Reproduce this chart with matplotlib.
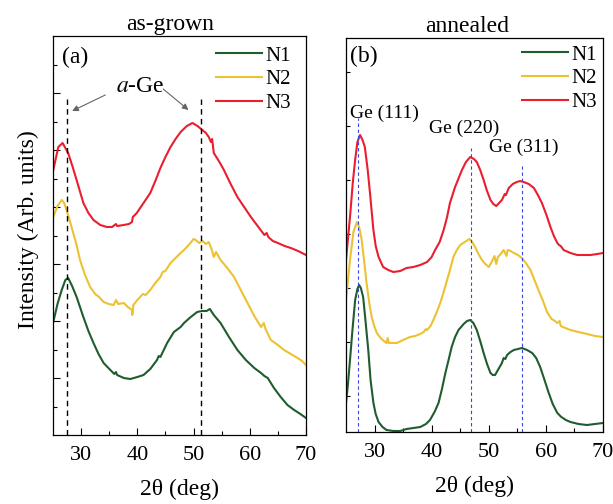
import matplotlib
matplotlib.use("Agg")
import matplotlib.pyplot as plt
from matplotlib.ticker import FixedLocator

plt.rcParams['font.family'] = ['Liberation Serif', 'DejaVu Serif']
plt.rcParams['mathtext.fontset'] = 'stix'

# ---------------- data: as-grown (a) ----------------
theta_a_N1 = [25.05, 25.8, 26.55, 27.2, 27.7, 28.4, 29.2, 30.4, 31.3, 32.2, 33.1, 34.0, 35.2, 35.9,
              36.2, 36.4, 37.6, 38.75, 40.0, 41.1, 42.3, 43.5, 43.8, 44.1, 45.3, 46.5, 47.7, 48.3,
              49.5, 50.65, 51.5, 52.3, 52.9, 53.6, 54.8, 56.3, 57.8, 59.3, 60.8, 62.0, 62.6, 63.2,
              64.3, 65.5, 66.7, 67.9, 69.0, 70.0]
I_a_N1 = [113, 131, 145, 155, 157, 149, 138, 118, 104, 92, 81, 72, 65, 61,
          63, 60, 57, 56, 58, 60, 66, 75, 79, 78, 92, 103, 108, 112,
          118, 123, 124, 124, 126, 120, 112, 98, 85, 75, 67, 62, 59, 57,
          47, 38, 30, 25, 21, 17]

theta_a_N2 = [25.05, 25.8, 26.55, 27.0, 27.4, 28.0, 28.6, 29.2, 29.8, 30.7, 31.6, 32.5, 33.2, 34.0,
              34.9, 35.8, 36.2, 36.6, 37.6, 38.3, 39.05, 39.1, 39.3, 40.0, 40.5, 41.0, 41.5, 42.3,
              43.2, 44.1, 44.5, 45.0, 45.9, 46.8, 47.7, 48.3, 49.3, 50.0, 50.4, 51.0, 51.6, 52.2,
              52.7, 53.2, 53.6, 54.0, 54.8, 56.0, 57.2, 58.4, 59.6, 60.8, 62.0, 62.5, 62.8, 63.75,
              65.0, 66.1, 67.3, 68.5, 69.3, 70.0]
I_a_N2 = [218, 229, 235, 232, 225, 214, 202, 190, 175, 160, 148, 141, 138, 133,
          131, 130, 135, 131, 132, 128, 125, 120, 130, 135, 138, 141, 140, 145,
          152, 158, 163, 164, 172, 177, 182, 185, 191, 196, 195, 192, 194, 191,
          193, 186, 178, 183, 175, 167, 158, 145, 132, 119, 108, 112, 106, 95,
          90, 85, 81, 77, 74, 70]

theta_a_N3 = [25.05, 25.95, 26.7, 27.7, 28.5, 29.2, 30.4, 31.3, 32.2, 33.4, 34.6, 35.5, 36.2, 36.4,
              37.6, 38.5, 39.05, 39.2, 39.9, 41.1, 42.3, 43.2, 44.1, 45.0, 45.9, 46.8, 47.7, 48.8,
              49.8, 50.7, 51.55, 52.2, 52.7, 53.1, 53.3, 53.6, 54.5, 55.4, 56.6, 57.8, 59.0, 60.2,
              61.4, 62.6, 63.0, 63.3, 64.1, 65.0, 66.2, 67.3, 68.6, 70.0]
I_a_N3 = [265, 288, 292, 282, 268, 255, 232, 222, 215, 210, 208, 208, 211, 209,
          210, 211, 213, 218, 222, 232, 242, 254, 267, 278, 288, 296, 303, 309,
          312, 309, 305, 302, 298, 293, 296, 282, 274, 265, 251, 238, 228, 218,
          209, 200, 202, 198, 194, 192, 189, 187, 184, 180]

# ---------------- data: annealed (b) ----------------
theta_b_N1 = [25.0, 25.3, 25.7, 26.1, 26.6, 27.0, 27.3, 27.6, 28.0, 28.4, 28.9, 29.3, 29.8, 30.2,
              30.7, 31.4, 32.1, 33.3, 34.5, 35.6, 36.8, 38.0, 39.0, 39.7, 40.5, 41.2, 41.8, 42.4,
              43.0, 43.5, 44.1, 44.7, 45.6, 46.2, 46.75, 47.3, 47.9, 48.5, 49.1, 49.7, 50.3, 50.7,
              51.1, 51.7, 52.3, 52.6, 52.9, 53.2, 53.8, 54.4, 55.1, 55.8, 56.7, 57.6, 58.3, 59.0,
              59.7, 60.5, 61.2, 62.0, 62.7, 63.5, 64.3, 65.7, 67.2, 68.6, 70.0]
I_b_N1 = [29, 45, 72, 100, 132, 143, 147, 144, 135, 112, 82, 52, 29, 18,
          10, 5, 2, 1, 1, 3, 4, 5, 8, 12, 20, 29, 43, 59,
          73, 85, 95, 102, 108, 111, 112, 109, 102, 91, 79, 68, 59, 57,
          57, 63, 69, 74, 73, 77, 80, 82, 83, 84, 82, 79, 74, 65,
          53, 39, 28, 19, 15, 12, 10, 8, 7, 8, 9]

theta_b_N2 = [25.0, 25.7, 26.3, 26.9, 27.3, 27.75, 28.2, 28.6, 29.1, 29.5, 30.0, 30.4, 31.2, 32.1,
              32.3, 32.5, 33.1, 33.9, 35.0, 36.2, 37.1, 38.0, 38.6, 39.0, 39.2, 39.8, 40.3, 40.9,
              41.5, 42.1, 42.7, 43.3, 43.8, 44.4, 45.0, 45.8, 46.6, 47.1, 47.6, 48.2, 48.8, 49.4,
              50.0, 50.5, 51.0, 51.3, 51.6, 52.1, 52.6, 53.1, 53.3, 53.8, 54.4, 55.1, 55.8, 56.5,
              57.3, 58.0, 58.7, 59.5, 60.2, 61.0, 61.6, 62.0, 62.4, 62.6, 63.4, 64.3, 65.7, 67.2,
              68.6, 70.0]
I_b_N2 = [132, 172, 200, 210, 205, 192, 170, 149, 128, 115, 105, 99, 93, 89,
          94, 89, 89, 89, 92, 95, 96, 98, 100, 103, 102, 106, 112, 120,
          129, 140, 152, 164, 175, 182, 187, 190, 193, 190, 185, 178, 172, 168,
          165, 170, 176, 168, 175, 178, 182, 176, 182, 181, 179, 177, 174, 169,
          162, 152, 142, 131, 120, 113, 111, 109, 111, 106, 104, 102, 100, 98,
          96, 95]

theta_b_N3 = [25.0, 25.7, 26.2, 26.6, 27.0, 27.46, 27.9, 28.3, 28.8, 29.2, 29.8, 30.2, 30.7, 31.5,
              32.4, 33.3, 34.5, 35.6, 36.8, 38.0, 39.2, 40.0, 40.6, 41.4, 42.1, 42.7, 43.2, 44.1,
              45.3, 46.0, 46.75, 47.4, 47.9, 48.5, 49.1, 49.7, 50.3, 50.8, 51.3, 51.8, 52.3, 52.8,
              53.0, 53.5, 54.2, 54.9, 55.5, 56.1, 57.0, 57.9, 58.6, 59.3, 60.1, 60.8, 61.4, 62.0,
              62.3, 62.6, 63.1, 64.3, 65.5, 66.6, 67.8, 69.0, 70.0]
I_b_N3 = [172, 215, 250, 272, 290, 297, 292, 285, 262, 239, 202, 186, 175, 165,
          162, 160, 161, 164, 165, 167, 170, 175, 182, 190, 202, 215, 229, 245,
          262, 270, 275, 273, 270, 262, 252, 241, 232, 228, 226, 229, 232, 238,
          237, 244, 248, 250, 251, 250, 248, 244, 237, 229, 217, 205, 196, 189,
          187, 186, 182, 179, 177, 177, 177, 178, 179]

labels = ['N1', 'N2', 'N3']
colors = ['#1f5c2e', '#ecc232', '#ea1e2e']

aGe_positions = [27.5, 51.4]
ge_peak_positions = [27.1, 46.9, 55.9]
ge_peak_labels = ['Ge (111)', 'Ge (220)', 'Ge (311)']
ge_line_tops = [314, 284, 269]

fig = plt.figure(figsize=(6.13, 5.04), dpi=100)
ax1 = fig.add_axes([53/613, 1-435/504, 253/613, 399/504])
ax2 = fig.add_axes([346/613, 1-432/504, 257/613, 394/504])

lw = 1.5
for th, I, lab, c in zip([theta_a_N1, theta_a_N2, theta_a_N3], [I_a_N1, I_a_N2, I_a_N3], labels, colors):
    ax1.plot(th, I, color=c, lw=lw, label=lab)
for th, I, lab, c in zip([theta_b_N1, theta_b_N2, theta_b_N3], [I_b_N1, I_b_N2, I_b_N3], labels, colors):
    ax2.plot(th, I, color=c, lw=lw, label=lab)

ax1.set_xlim(25, 70)
ax1.set_ylim(0, 399)
ax2.set_xlim(25, 70)
ax2.set_ylim(0, 394)

for ax in (ax1, ax2):
    ax.xaxis.set_major_locator(FixedLocator([30, 40, 50, 60, 70]))
    ax.xaxis.set_minor_locator(FixedLocator([35, 45, 55, 65]))
    ax.tick_params(axis='both', which='both', direction='in', top=False, right=False)
    ax.tick_params(axis='x', which='major', length=5, width=0.8, labelsize=16, pad=8)
    ax.tick_params(axis='x', which='minor', length=3, width=0.8)
    ax.tick_params(axis='y', which='both', labelleft=False)
    for s in ax.spines.values():
        s.set_linewidth(0.9)
    ax.set_xlabel('2θ (deg)', fontsize=17, labelpad=10)

ax1.yaxis.set_major_locator(FixedLocator([57, 114, 171, 228, 285, 342]))
ax1.yaxis.set_minor_locator(FixedLocator([28.5, 85.5, 142.5, 199.5, 256.5, 313.5, 370.5]))
ax1.tick_params(axis='y', which='major', length=5, width=0.8)
ax1.tick_params(axis='y', which='minor', length=3, width=0.8)
ax2.yaxis.set_major_locator(FixedLocator([36, 90, 144, 198, 252, 306, 360]))
ax2.yaxis.set_minor_locator(FixedLocator([]))
ax2.tick_params(axis='y', which='major', length=3, width=0.8)

ax1.set_title('as-grown', fontsize=17, x=0.462, pad=4)
ax2.set_title('annealed', fontsize=17, x=0.471, pad=4)
fig.text(28/613, 1-230/504, 'Intensity (Arb. units)', rotation=90, fontsize=17,
         ha='center', va='center')

leg_kw = dict(frameon=False, fontsize=15, handlelength=2.2, handletextpad=0.15,
              labelspacing=0.2, borderpad=0, borderaxespad=0, loc='upper right')
ax1.legend(bbox_to_anchor=((291-53)/253, 1-(46-36)/399), **leg_kw)
ax2.legend(bbox_to_anchor=((597-346)/257, 1-(45-38)/394), **leg_kw)

ax1.text(0.036, 0.947, '(a)', transform=ax1.transAxes, fontsize=17, ha='left', va='center')
ax2.text(0.016, 0.952, '(b)', transform=ax2.transAxes, fontsize=17, ha='left', va='center')

# a-Ge reference lines and annotation
for xp in aGe_positions:
    ax1.plot([xp, xp], [0, 336], color='black', lw=1.0, ls=(0, (4, 3)))
ax1.text(40.5, 348, r'$\mathit{a}$-Ge', fontsize=17, ha='center', va='center')
arrow_kw = dict(arrowstyle='-|>', color='0.4', lw=0.8, mutation_scale=9, shrinkA=0, shrinkB=0)
ax1.annotate('', xy=(28.4, 324), xytext=(34.3, 340), arrowprops=arrow_kw)
ax1.annotate('', xy=(49.1, 325), xytext=(44.6, 346), arrowprops=arrow_kw)

# Ge crystalline peaks
label_pos = [(31.8, 319), (45.7, 304), (56.2, 285)]
for xp, top, lab, (tx, ty) in zip(ge_peak_positions, ge_line_tops, ge_peak_labels, label_pos):
    ax2.plot([xp, xp], [0, top], color='#3a46e0', lw=0.8, ls=(0, (3, 2.5)))
    ax2.text(tx, ty, lab, fontsize=14, ha='center', va='center')

fig.savefig('out.png', dpi=100)
